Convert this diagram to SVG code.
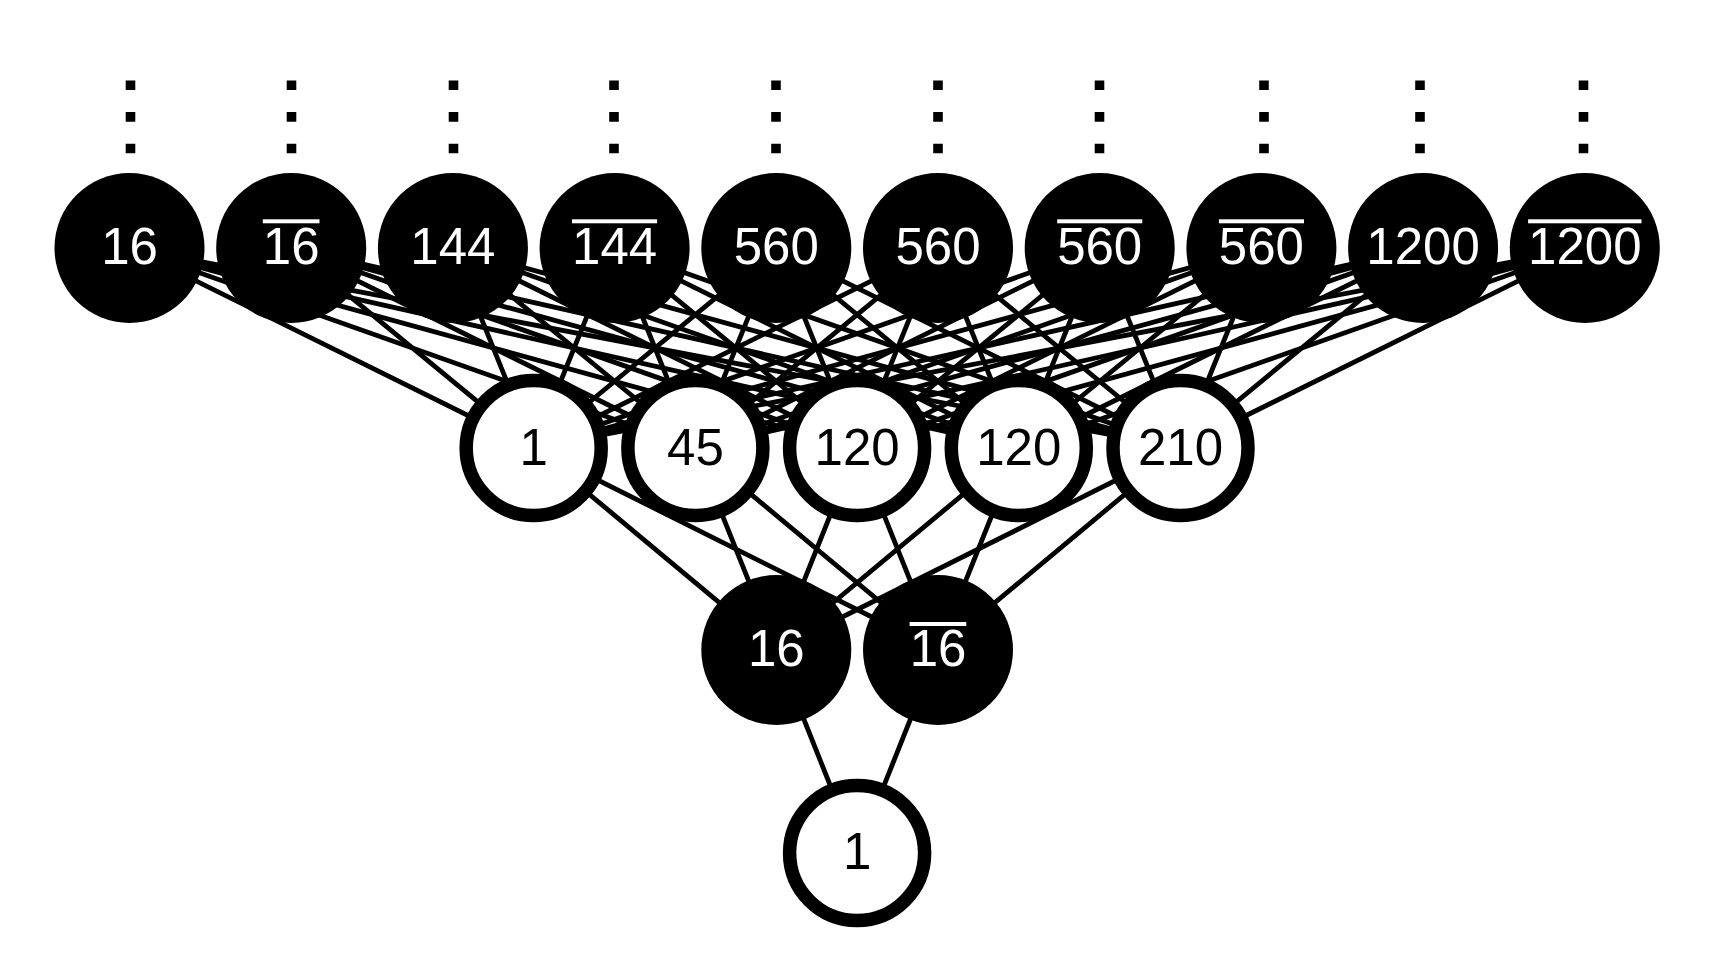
<svg xmlns="http://www.w3.org/2000/svg" width="1724" height="958" viewBox="0 0 1724 958">
<style>
.edge{stroke:#000;stroke-width:4.8;stroke-linecap:butt}
.bn{fill:#000}
.wn{fill:#fff;stroke:#000;stroke-width:13.5}
.lw{fill:#fff;font-family:"Liberation Sans",Arial,sans-serif;font-size:51px;text-anchor:middle}
.lb{fill:#000;font-family:"Liberation Sans",Arial,sans-serif;font-size:51px;text-anchor:middle}
.ol{fill:#fff}
.dots{stroke:#000;stroke-width:9.6;stroke-dasharray:9.6 22}
</style>
<rect width="1724" height="958" fill="#fff"/>
<g id="dots">
<line class="dots" x1="130.5" y1="80.5" x2="130.5" y2="154"/>
<line class="dots" x1="291.5" y1="80.5" x2="291.5" y2="154"/>
<line class="dots" x1="453.5" y1="80.5" x2="453.5" y2="154"/>
<line class="dots" x1="614" y1="80.5" x2="614" y2="154"/>
<line class="dots" x1="776" y1="80.5" x2="776" y2="154"/>
<line class="dots" x1="938" y1="80.5" x2="938" y2="154"/>
<line class="dots" x1="1099.5" y1="80.5" x2="1099.5" y2="154"/>
<line class="dots" x1="1264" y1="80.5" x2="1264" y2="154"/>
<line class="dots" x1="1420" y1="80.5" x2="1420" y2="154"/>
<line class="dots" x1="1583.5" y1="80.5" x2="1583.5" y2="154"/>
</g>
<g id="connectors">
<line class="edge" x1="129.5" y1="248" x2="533.7" y2="448"/>
<line class="edge" x1="129.5" y1="248" x2="695.4" y2="448"/>
<line class="edge" x1="129.5" y1="248" x2="857.1" y2="448"/>
<line class="edge" x1="129.5" y1="248" x2="1018.8" y2="448"/>
<line class="edge" x1="129.5" y1="248" x2="1180.5" y2="448"/>
<line class="edge" x1="291.2" y1="248" x2="533.7" y2="448"/>
<line class="edge" x1="291.2" y1="248" x2="695.4" y2="448"/>
<line class="edge" x1="291.2" y1="248" x2="857.1" y2="448"/>
<line class="edge" x1="291.2" y1="248" x2="1018.8" y2="448"/>
<line class="edge" x1="291.2" y1="248" x2="1180.5" y2="448"/>
<line class="edge" x1="452.9" y1="248" x2="533.7" y2="448"/>
<line class="edge" x1="452.9" y1="248" x2="695.4" y2="448"/>
<line class="edge" x1="452.9" y1="248" x2="857.1" y2="448"/>
<line class="edge" x1="452.9" y1="248" x2="1018.8" y2="448"/>
<line class="edge" x1="452.9" y1="248" x2="1180.5" y2="448"/>
<line class="edge" x1="614.6" y1="248" x2="533.7" y2="448"/>
<line class="edge" x1="614.6" y1="248" x2="695.4" y2="448"/>
<line class="edge" x1="614.6" y1="248" x2="857.1" y2="448"/>
<line class="edge" x1="614.6" y1="248" x2="1018.8" y2="448"/>
<line class="edge" x1="614.6" y1="248" x2="1180.5" y2="448"/>
<line class="edge" x1="776.3" y1="248" x2="533.7" y2="448"/>
<line class="edge" x1="776.3" y1="248" x2="695.4" y2="448"/>
<line class="edge" x1="776.3" y1="248" x2="857.1" y2="448"/>
<line class="edge" x1="776.3" y1="248" x2="1018.8" y2="448"/>
<line class="edge" x1="776.3" y1="248" x2="1180.5" y2="448"/>
<line class="edge" x1="938" y1="248" x2="533.7" y2="448"/>
<line class="edge" x1="938" y1="248" x2="695.4" y2="448"/>
<line class="edge" x1="938" y1="248" x2="857.1" y2="448"/>
<line class="edge" x1="938" y1="248" x2="1018.8" y2="448"/>
<line class="edge" x1="938" y1="248" x2="1180.5" y2="448"/>
<line class="edge" x1="1099.7" y1="248" x2="533.7" y2="448"/>
<line class="edge" x1="1099.7" y1="248" x2="695.4" y2="448"/>
<line class="edge" x1="1099.7" y1="248" x2="857.1" y2="448"/>
<line class="edge" x1="1099.7" y1="248" x2="1018.8" y2="448"/>
<line class="edge" x1="1099.7" y1="248" x2="1180.5" y2="448"/>
<line class="edge" x1="1261.4" y1="248" x2="533.7" y2="448"/>
<line class="edge" x1="1261.4" y1="248" x2="695.4" y2="448"/>
<line class="edge" x1="1261.4" y1="248" x2="857.1" y2="448"/>
<line class="edge" x1="1261.4" y1="248" x2="1018.8" y2="448"/>
<line class="edge" x1="1261.4" y1="248" x2="1180.5" y2="448"/>
<line class="edge" x1="1423.1" y1="248" x2="533.7" y2="448"/>
<line class="edge" x1="1423.1" y1="248" x2="695.4" y2="448"/>
<line class="edge" x1="1423.1" y1="248" x2="857.1" y2="448"/>
<line class="edge" x1="1423.1" y1="248" x2="1018.8" y2="448"/>
<line class="edge" x1="1423.1" y1="248" x2="1180.5" y2="448"/>
<line class="edge" x1="1584.8" y1="248" x2="533.7" y2="448"/>
<line class="edge" x1="1584.8" y1="248" x2="695.4" y2="448"/>
<line class="edge" x1="1584.8" y1="248" x2="857.1" y2="448"/>
<line class="edge" x1="1584.8" y1="248" x2="1018.8" y2="448"/>
<line class="edge" x1="1584.8" y1="248" x2="1180.5" y2="448"/>
<line class="edge" x1="533.7" y1="448" x2="776.3" y2="650"/>
<line class="edge" x1="533.7" y1="448" x2="938" y2="650"/>
<line class="edge" x1="695.4" y1="448" x2="776.3" y2="650"/>
<line class="edge" x1="695.4" y1="448" x2="938" y2="650"/>
<line class="edge" x1="857.1" y1="448" x2="776.3" y2="650"/>
<line class="edge" x1="857.1" y1="448" x2="938" y2="650"/>
<line class="edge" x1="1018.8" y1="448" x2="776.3" y2="650"/>
<line class="edge" x1="1018.8" y1="448" x2="938" y2="650"/>
<line class="edge" x1="1180.5" y1="448" x2="776.3" y2="650"/>
<line class="edge" x1="1180.5" y1="448" x2="938" y2="650"/>
<line class="edge" x1="776.3" y1="650" x2="857.1" y2="853"/>
<line class="edge" x1="938" y1="650" x2="857.1" y2="853"/>
</g>
<g id="t16"><circle class="bn" cx="129.5" cy="248" r="75"/><text class="lw" x="129.5" y="263.5">16</text></g>
<g id="t16bar"><circle class="bn" cx="291.2" cy="248" r="75"/><text class="lw" x="291.2" y="263.5">16</text><rect class="ol" x="262.8" y="219.3" width="56.7" height="4"/></g>
<g id="t144"><circle class="bn" cx="452.9" cy="248" r="75"/><text class="lw" x="452.9" y="263.5">144</text></g>
<g id="t144bar"><circle class="bn" cx="614.6" cy="248" r="75"/><text class="lw" x="614.6" y="263.5">144</text><rect class="ol" x="572" y="219.3" width="85.1" height="4"/></g>
<g id="t560a"><circle class="bn" cx="776.3" cy="248" r="75"/><text class="lw" x="776.3" y="263.5">560</text></g>
<g id="t560b"><circle class="bn" cx="938" cy="248" r="75"/><text class="lw" x="938" y="263.5">560</text></g>
<g id="t560bar_a"><circle class="bn" cx="1099.7" cy="248" r="75"/><text class="lw" x="1099.7" y="263.5">560</text><rect class="ol" x="1057.2" y="219.3" width="85.1" height="4"/></g>
<g id="t560bar_b"><circle class="bn" cx="1261.4" cy="248" r="75"/><text class="lw" x="1261.4" y="263.5">560</text><rect class="ol" x="1218.9" y="219.3" width="85.1" height="4"/></g>
<g id="t1200"><circle class="bn" cx="1423.1" cy="248" r="75"/><text class="lw" x="1423.1" y="263.5">1200</text></g>
<g id="t1200bar"><circle class="bn" cx="1584.8" cy="248" r="75"/><text class="lw" x="1584.8" y="263.5">1200</text><rect class="ol" x="1528.1" y="219.3" width="113.4" height="4"/></g>
<g id="m1"><circle class="wn" cx="533.7" cy="448" r="67.5"/><text class="lb" x="533.7" y="464.5">1</text></g>
<g id="m45"><circle class="wn" cx="695.4" cy="448" r="67.5"/><text class="lb" x="695.4" y="464.5">45</text></g>
<g id="m120a"><circle class="wn" cx="857.1" cy="448" r="67.5"/><text class="lb" x="857.1" y="464.5">120</text></g>
<g id="m120b"><circle class="wn" cx="1018.8" cy="448" r="67.5"/><text class="lb" x="1018.8" y="464.5">120</text></g>
<g id="m210"><circle class="wn" cx="1180.5" cy="448" r="67.5"/><text class="lb" x="1180.5" y="464.5">210</text></g>
<g id="b16"><circle class="bn" cx="776.3" cy="650" r="75"/><text class="lw" x="776.3" y="665.5">16</text></g>
<g id="b16bar"><circle class="bn" cx="938" cy="650" r="75"/><text class="lw" x="938" y="665.5">16</text><rect class="ol" x="909.6" y="622" width="56.7" height="4"/></g>
<g id="b1"><circle class="wn" cx="857.1" cy="853" r="67.5"/><text class="lb" x="857.1" y="868.5">1</text></g>
</svg>
